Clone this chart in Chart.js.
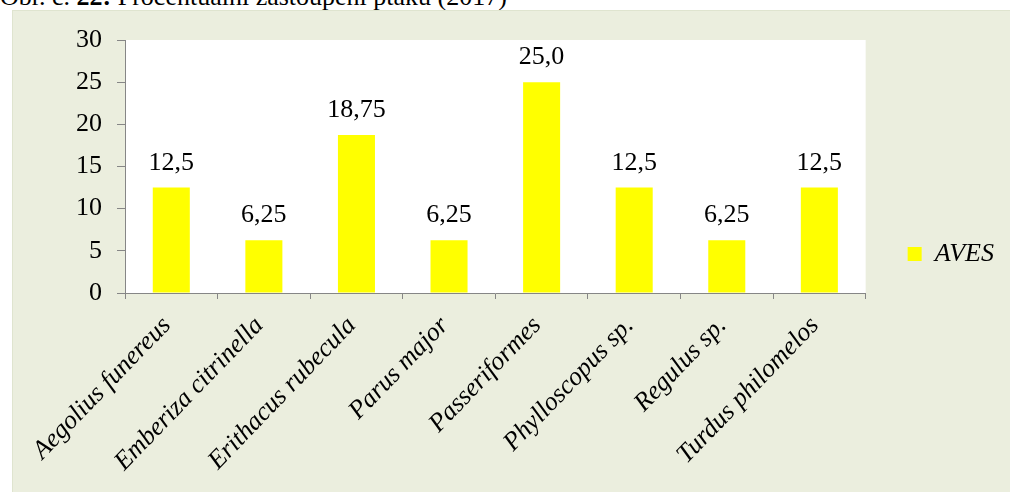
<!DOCTYPE html>
<html>
<head>
<meta charset="utf-8">
<title>Procentuální zastoupení ptáků</title>
<script src="https://cdn.jsdelivr.net/npm/chart.js@4.4.1/dist/chart.umd.min.js"></script>
<style>
  body { margin: 0; background: #ffffff; overflow: hidden; }
  #caption {
    position: absolute; left: 0; top: -16px;
    font: 26px "Liberation Serif", "Times New Roman", serif;
    line-height: 26px; white-space: nowrap; color: #000;
  }
  #panel {
    position: absolute; left: 12px; top: 10px; width: 998px; height: 482px;
    background: #ebeede; border-top: 1px solid #dfe4cf; border-left: 1px solid #dfe4cf;
    box-sizing: border-box;
  }
</style>
</head>
<body>
<div id="caption">Obr. č. <b>22:</b> Procentuální zastoupení ptáků (2017)</div>
<div id="panel"><canvas id="birdChart"></canvas></div>
<script>
const species = [
  'Aegolius funereus', 'Emberiza citrinella', 'Erithacus rubecula', 'Parus major',
  'Passeriformes', 'Phylloscopus sp.', 'Regulus sp.', 'Turdus philomelos'
];
const avesShare = [12.5, 6.25, 18.75, 6.25, 25.0, 12.5, 6.25, 12.5];
const yTicks = [0, 5, 10, 15, 20, 25, 30];

const serif = '"Liberation Serif", "Times New Roman", serif';
const axisGrey = '#868686';

// czech style decimal comma, at least one decimal place
function formatValue(v) {
  const dec = (String(v).split('.')[1] || '').length;
  return v.toFixed(Math.max(1, dec)).replace('.', ',');
}

// white plot area on the tinted panel
const plotBackground = {
  id: 'plotBackground',
  beforeDraw(chart) {
    const { ctx, chartArea: a } = chart;
    ctx.save();
    ctx.fillStyle = '#ffffff';
    ctx.fillRect(a.left, a.top, a.right - a.left, a.bottom - a.top);
    ctx.restore();
  }
};

// value printed above each bar
const valueLabels = {
  id: 'valueLabels',
  afterDatasetsDraw(chart) {
    const ctx = chart.ctx;
    const meta = chart.getDatasetMeta(0);
    ctx.save();
    ctx.font = '26px ' + serif;
    ctx.fillStyle = '#000';
    ctx.textAlign = 'center';
    ctx.textBaseline = 'alphabetic';
    meta.data.forEach((bar, i) => {
      ctx.fillText(formatValue(avesShare[i]), bar.x, bar.y - 18);
    });
    ctx.restore();
  }
};

new Chart(document.getElementById('birdChart'), {
  type: 'bar',
  data: {
    labels: species,
    datasets: [{
      label: 'AVES',
      data: avesShare,
      backgroundColor: '#ffff00',
      borderWidth: 0,
      barPercentage: 0.4,
      categoryPercentage: 1.0
    }]
  },
  options: {
    responsive: true,
    maintainAspectRatio: false,
    animation: false,
    // small top padding keeps the legend centred on the whole panel
    layout: { padding: { top: 5, left: 0, right: 6, bottom: 0 } },
    plugins: {
      tooltip: { enabled: false },
      legend: {
        position: 'right',
        align: 'center',
        labels: {
          boxWidth: 14,
          boxHeight: 14,
          padding: 42,
          color: '#000',
          font: { family: serif, size: 26, style: 'italic' }
        }
      }
    },
    scales: {
      x: {
        grid: { display: true, drawOnChartArea: false, tickLength: 6, color: axisGrey, offset: true },
        border: { color: axisGrey, width: 1 },
        ticks: {
          color: '#000',
          minRotation: 46,
          maxRotation: 46,
          padding: 7,
          font: { family: serif, size: 26, style: 'italic' },
          // trailing space pulls the slanted name a little down-left of the tick
          callback(value) { return this.getLabelForValue(value) + ' '; }
        },
        afterFit(scale) { scale.height = 199; }
      },
      y: {
        min: 0,
        max: 30,
        grid: { display: true, drawOnChartArea: false, tickLength: 8, color: axisGrey },
        border: { color: axisGrey, width: 1 },
        afterBuildTicks(scale) { scale.ticks = yTicks.map(v => ({ value: v })); },
        ticks: {
          color: '#000',
          padding: 15,
          font: { family: serif, size: 26 }
        },
        afterFit(scale) {
          scale.width = 112;
          // room above the plot for the top tick label
          scale.paddingTop = 29;
        }
      }
    }
  },
  plugins: [plotBackground, valueLabels]
});
</script>
</body>
</html>
